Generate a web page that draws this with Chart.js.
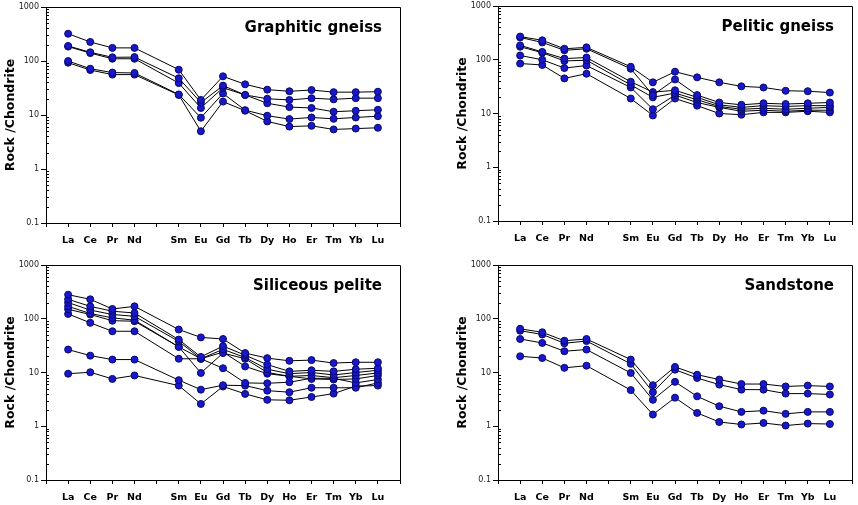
<!DOCTYPE html>
<html>
<head>
<meta charset="utf-8">
<script src="https://cdn.jsdelivr.net/npm/chart.js@4/dist/chart.umd.min.js"></script>
<style>
  body { margin:0; background:#fff; }
  #wrap { position:relative; width:858px; height:505px; overflow:hidden; background:#fff; }
  canvas { position:absolute; }
</style>
</head>
<body>
<div id="wrap">
  <canvas id="c1" width="406" height="250" style="left:0px;top:0px"></canvas>
  <canvas id="c2" width="406" height="250" style="left:452px;top:0px"></canvas>
  <canvas id="c3" width="406" height="255" style="left:0px;top:250px"></canvas>
  <canvas id="c4" width="406" height="255" style="left:452px;top:250px"></canvas>
</div>
<script>
// x axis labels (blank slots at both ends and at Pm)
var tickLabels = ['', 'La','Ce','Pr','Nd','', 'Sm','Eu','Gd','Tb','Dy','Ho','Er','Tm','Yb','Lu',''];
var yTicks = [0.1, 1, 10, 100, 1000];

// rock / chondrite, order: La Ce Pr Nd Sm Eu Gd Tb Dy Ho Er Tm Yb Lu
var graphitic1 = [320, 225, 175, 175, 69, 19, 52, 37, 29.5, 27.5, 29, 26.5, 26.5, 27];
var graphitic2 = [190, 145, 117, 118, 48, 17, 35, 23.5, 20, 19, 20.5, 19.5, 20.5, 20.5];
var graphitic3 = [185, 140, 110, 110, 39, 13.5, 32, 23.5, 16.5, 14, 13.5, 11.5, 12, 12.5];
var graphitic4 = [100, 72, 61, 60, 24, 8.9, 25, 12.3, 9.7, 8.4, 9, 8.5, 9, 9.5];
var graphitic5 = [93, 68, 56, 56, 23.5, 5, 17.7, 12, 7.6, 6.1, 6.3, 5.4, 5.6, 5.8];

var pelitic1 = [270, 230, 160, 170, 74, 38, 60, 47, 38, 32, 30.5, 26.5, 26, 24.5];
var pelitic2 = [260, 210, 150, 160, 68, 22, 43, 22, 16, 14.5, 15.5, 15, 15.5, 16];
var pelitic3 = [185, 140, 105, 110, 39, 25, 27, 20, 14.5, 13, 14, 13.5, 14, 14];
var pelitic4 = [175, 135, 95, 98, 34, 20, 24, 18, 13.5, 12, 12.5, 12, 12.5, 13];
var pelitic5 = [120, 100, 70, 78, 30.5, 12, 22, 16, 13, 11, 11.5, 11, 11.5, 11.5];
var pelitic6 = [85, 80, 45, 55, 19, 9.2, 19, 14, 10, 9.5, 10.5, 10.5, 11, 10.5];

var siliceous1 = [280, 230, 152, 170, 63, 45, 42, 23, 18.5, 16.5, 17, 15, 15.5, 15.5];
var siliceous2 = [230, 170, 138, 128, 41, 19.5, 31, 21, 14, 10.5, 11, 10.5, 11.5, 12];
var siliceous3 = [200, 145, 120, 111, 38, 18, 27, 19, 11.5, 9.5, 10, 9, 10, 11];
var siliceous4 = [170, 125, 104, 94, 30, 9.8, 23, 18, 10, 8.5, 8.8, 8, 8.8, 9.8];
var siliceous5 = [150, 120, 92, 90, 30, 18, 24, 13, 9.5, 8.5, 7.6, 7.4, 7.6, 8.8];
var siliceous6 = [123, 84, 58.5, 58.5, 18, 18, 12, 6.4, 6.3, 6.6, 7.8, 7.8, 6.4, 7.4];
var siliceous7 = [26.7, 20.6, 17.4, 17.4, 7.2, 4.8, 5.8, 5.7, 4.6, 4.3, 5.2, 5.2, 5.2, 6.4];
var siliceous8 = [9.5, 10.1, 7.6, 8.8, 5.7, 2.6, 5.5, 4, 3.1, 3.05, 3.5, 4.05, 5.6, 5.7];

var sandstone1 = [65, 56, 39, 42, 17.4, 5.8, 12.7, 9.1, 7.4, 6.1, 6.1, 5.5, 5.7, 5.5];
var sandstone2 = [60, 51, 35, 38.5, 14.5, 4.3, 11.3, 7.9, 5.95, 4.8, 4.8, 4.05, 4.05, 3.9];
var sandstone3 = [42, 35.5, 24.9, 26.7, 9.8, 3.1, 6.7, 3.6, 2.36, 1.85, 1.95, 1.7, 1.85, 1.85];
var sandstone4 = [20, 18.6, 12.2, 13.4, 4.7, 1.65, 3.4, 1.77, 1.2, 1.08, 1.15, 1.03, 1.12, 1.1];

var FONT = '"DejaVu Sans", Verdana, sans-serif';

function isMajor(v){
  var l = Math.log10(v);
  return Math.abs(l - Math.round(l)) < 1e-6;
}

// put the values on the 17 slots of the x axis
function slots(v){
  return [null, v[0], v[1], v[2], v[3], null].concat(v.slice(4)).concat([null]);
}

var framePlugin = {
  id: 'frame',
  beforeDatasetsDraw: function(chart){
    var ctx = chart.ctx, a = chart.chartArea, y = chart.scales.y;
    ctx.save();
    ctx.strokeStyle = '#000';
    ctx.lineWidth = 1;
    ctx.beginPath();
    ctx.moveTo(Math.round(a.left) + 0.5, Math.round(a.top) + 0.5);
    ctx.lineTo(Math.round(a.right) + 0.5, Math.round(a.top) + 0.5);
    ctx.lineTo(Math.round(a.right) + 0.5, Math.round(a.bottom) + 0.5);
    ctx.stroke();
    // minor log ticks pointing inward
    y.ticks.forEach(function(t){
      if (isMajor(t.value)) return;
      var py = Math.round(y.getPixelForValue(t.value)) + 0.5;
      ctx.beginPath();
      ctx.moveTo(a.left, py);
      ctx.lineTo(a.left + 3, py);
      ctx.stroke();
    });
    ctx.restore();
  },
  afterDraw: function(chart, args, opts){
    var ctx = chart.ctx, a = chart.chartArea;
    ctx.save();
    ctx.font = 'bold 15px ' + FONT;
    ctx.fillStyle = '#000';
    ctx.textAlign = 'right';
    ctx.textBaseline = 'alphabetic';
    ctx.fillText(opts.text, a.right - 18, a.top + 24.5);
    ctx.restore();
  }
};

function graph(id, title, series, padTop, xHeight){
  var ctx = document.getElementById(id).getContext('2d');
  var sets = series.map(function(s){
    return {
      data: slots(s),
      borderColor: '#000',
      borderWidth: 1,
      pointRadius: 3.5,
      pointBackgroundColor: '#1818c8',
      pointBorderColor: '#08086e',
      pointBorderWidth: 1,
      spanGaps: true,
      tension: 0
    };
  });
  return new Chart(ctx, {
    type: 'line',
    data: { labels: tickLabels, datasets: sets },
    plugins: [framePlugin],
    options: {
      responsive: false,
      animation: false,
      devicePixelRatio: 1,
      layout: { padding: { left: 0, right: 6, top: padTop, bottom: 0 } },
      plugins: {
        legend: { display: false },
        tooltip: { enabled: false },
        frame: { text: title }
      },
      scales: {
        x: {
          type: 'category',
          offset: false,
          grid: { drawOnChartArea: false, drawTicks: true, tickLength: 4, color: '#000' },
          border: { display: true, color: '#000', width: 1 },
          ticks: { autoSkip: false, maxRotation: 0, padding: 8, color: '#000',
                   font: { family: FONT, size: 9.5, weight: 'bold' } },
          afterFit: function(s){ s.height = xHeight; s.paddingLeft = 0; s.paddingRight = 0; }
        },
        y: {
          type: 'logarithmic',
          min: 0.1,
          max: 1000,
          afterBuildTicks: function(s){
            var t = [];
            for (var d = 0; d < yTicks.length - 1; d++) {
              for (var m = 1; m < 10; m++) t.push({ value: m * yTicks[d] });
            }
            t.push({ value: yTicks[yTicks.length - 1] });
            s.ticks = t;
          },
          grid: {
            drawOnChartArea: false, drawTicks: true, tickLength: 5,
            color: function(c){ return c.tick && isMajor(c.tick.value) ? '#000' : 'rgba(0,0,0,0)'; }
          },
          border: { display: true, color: '#000', width: 1 },
          ticks: {
            autoSkip: false, padding: 2, color: '#222',
            font: { family: FONT, size: 8 },
            callback: function(v){ return isMajor(v) ? String(v) : ''; }
          },
          title: {
            display: true, text: 'Rock /Chondrite', color: '#000',
            font: { family: FONT, size: 12.5, weight: 'bold' },
            padding: { top: 3, bottom: 0 }
          },
          afterFit: function(s){ s.width = 46; s.paddingTop = 0; s.paddingBottom = 0; }
        }
      }
    }
  });
}

graph('c1', 'Graphitic gneiss', [graphitic1, graphitic2, graphitic3, graphitic4, graphitic5], 7, 27);
graph('c2', 'Pelitic gneiss', [pelitic1, pelitic2, pelitic3, pelitic4, pelitic5, pelitic6], 6, 29);
graph('c3', 'Siliceous pelite', [siliceous1, siliceous2, siliceous3, siliceous4, siliceous5, siliceous6, siliceous7, siliceous8], 15, 25);
graph('c4', 'Sandstone', [sandstone1, sandstone2, sandstone3, sandstone4], 15, 25);
</script>
</body>
</html>
